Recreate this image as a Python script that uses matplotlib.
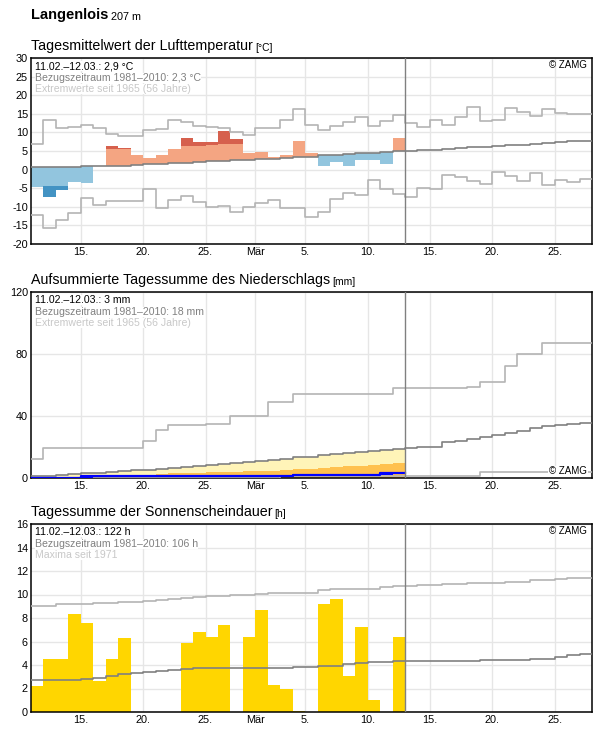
import numpy as np
import matplotlib
matplotlib.use('Agg')
from matplotlib import pyplot as plt

plt.rcParams['font.family'] = ['Liberation Sans', 'DejaVu Sans']
plt.rcParams['axes.unicode_minus'] = False

# x axis: one step per day, day 0 = 11. Feb, day 30 = 13. Mar (today), day 45 = 28. Mar
tick_pos = [4, 9, 14, 18, 22, 27, 32, 37, 42]
tick_lbl = ['15.', '20.', '25.', 'Mär', '5.', '10.', '15.', '20.', '25.']
today = 30

# --- Lufttemperatur (daily mean, 11.02.-12.03.) ---
temp = [-4.6, -7.3, -5.6, -3.2, -3.5, 0.9, 6.3, 5.7, 3.9, 3.0, 3.9, 5.5, 8.5, 7.4, 7.4,
        10.4, 8.3, 4.5, 4.7, 3.3, 3.8, 7.7, 4.4, 1.1, 2.0, 1.1, 2.7, 2.7, 1.6, 8.6]
# where the darker shade starts (NaN = no dark part)
temp_split = [np.nan, -4.4, -4.4, np.nan, np.nan, np.nan, 5.45, 5.45, np.nan, np.nan,
              np.nan, np.nan, 6.4, 6.4, 6.6, 6.9, 6.9, np.nan, np.nan, np.nan,
              np.nan, np.nan, np.nan, np.nan, np.nan, np.nan, np.nan, np.nan, np.nan, np.nan]
temp_clim = [0.6, 0.6, 0.6, 0.6, 0.9, 0.9, 1.0, 1.0, 1.3, 1.6, 1.6, 1.9, 1.9, 2.1, 2.2,
             2.4, 2.5, 2.7, 2.8, 2.9, 3.1, 3.4, 3.5, 3.8, 3.9, 4.2, 4.4, 4.5, 4.7, 4.9,
             5.0, 5.2, 5.4, 5.6, 5.8, 6.0, 6.2, 6.3, 6.5, 6.7, 6.9, 7.1, 7.3, 7.6, 7.8]
temp_max = [6.8, 13.2, 11.1, 11.4, 12.1, 11.1, 9.7, 8.9, 8.9, 10.7, 10.9, 13.2, 12.9, 11.6, 11.4,
            11.3, 10.0, 9.3, 11.1, 11.1, 13.2, 16.2, 12.0, 10.6, 11.6, 12.7, 14.1, 11.6, 13.1, 14.6,
            12.5, 11.4, 13.4, 12.0, 14.1, 16.8, 13.1, 13.4, 16.5, 15.6, 14.4, 16.4, 15.3, 14.9, 14.9]
temp_min = [-12.3, -15.6, -13.6, -11.8, -7.5, -9.4, -8.5, -8.5, -8.5, -5.3, -10.2, -8.2, -7.0, -8.6, -10.0,
            -9.7, -11.5, -10.0, -9.1, -8.2, -10.2, -10.3, -12.8, -11.4, -8.0, -6.2, -6.9, -2.8, -5.3, -6.6,
            -7.4, -5.0, -5.3, -1.5, -2.1, -3.1, -3.9, -0.6, -1.8, -3.1, -0.9, -4.2, -2.8, -3.4, -2.5]

# --- Niederschlag ---
prec_day = [0, 0, 0, 0, 1.3, 0, 0, 0, 0, 0, 0, 0, 0, 0, 0,
            0, 0, 0, 0, 0, 0, 0.7, 0, 0, 0, 0, 0, 0, 1.0, 0]
prec_clim = [1.0, 1.0, 2.2, 2.6, 3.2, 3.4, 3.9, 4.5, 5.2, 5.4, 5.8, 6.5, 7.1, 8.0, 8.4,
             9.3, 10.0, 10.6, 11.2, 11.6, 12.3, 13.4, 13.8, 15.0, 15.8, 16.4, 16.6, 17.2, 17.9, 18.5,
             19.4, 20.1, 20.1, 23.1, 24.0, 25.3, 26.6, 27.9, 29.2, 30.5, 32.2, 33.5, 34.4, 35.0, 35.7]
prec_med = [0.5, 0.5, 0.8, 0.8, 1.0, 1.0, 1.2, 1.3, 1.5, 2.2, 2.6, 3.0, 3.2, 3.4, 3.6,
            3.8, 4.0, 4.3, 4.5, 4.7, 4.9, 5.6, 5.8, 6.5, 6.9, 7.5, 8.0, 8.6, 9.1, 9.5]
prec_max = [12.3, 19.4, 19.4, 19.4, 19.4, 19.4, 19.4, 19.4, 19.4, 24.0, 30.9, 34.4, 34.4, 34.4, 34.7,
            34.7, 40.0, 40.0, 40.0, 49.0, 49.0, 54.0, 54.0, 54.0, 54.0, 54.0, 54.4, 54.4, 54.4, 57.9,
            57.9, 57.9, 57.9, 57.9, 57.9, 59.0, 62.0, 62.0, 72.0, 79.9, 79.9, 87.1, 87.1, 87.1, 87.1]
prec_min = [0, 0, 0, 0, 0, 0, 0, 0, 0, 0, 0, 0, 0, 0, 0,
            0, 0, 0, 0, 0, 1.0, 1.0, 1.0, 1.0, 1.0, 1.0, 1.0, 1.0, 1.0, 1.0,
            1.0, 1.0, 1.0, 1.0, 1.0, 1.0, 4.0, 4.0, 4.0, 4.0, 4.0, 4.0, 4.0, 4.0, 4.0]

# --- Sonnenscheindauer ---
sun = [2.2, 4.5, 4.5, 8.3, 7.6, 2.6, 4.5, 6.3, 0, 0, 0, 0, 5.9, 6.8, 6.4,
       7.4, 0, 6.4, 8.7, 2.3, 2.0, 0.1, 0, 9.2, 9.6, 3.1, 7.2, 1.0, 0, 6.4]
sun_clim = [2.7, 2.7, 2.7, 2.7, 2.8, 2.9, 3.1, 3.2, 3.3, 3.37, 3.49, 3.54, 3.66, 3.75, 3.78,
            3.78, 3.78, 3.78, 3.78, 3.78, 3.78, 3.8, 3.8, 3.89, 3.95, 4.06, 4.18, 4.24, 4.29, 4.35,
            4.38, 4.38, 4.38, 4.38, 4.38, 4.38, 4.44, 4.44, 4.44, 4.44, 4.52, 4.52, 4.64, 4.81, 4.93]
sun_max = [9.0, 9.0, 9.2, 9.2, 9.2, 9.3, 9.3, 9.4, 9.4, 9.48, 9.57, 9.65, 9.74, 9.8, 9.88,
           9.88, 9.97, 9.97, 10.06, 10.1, 10.17, 10.17, 10.17, 10.35, 10.43, 10.43, 10.5, 10.5, 10.6, 10.7,
           10.7, 10.78, 10.78, 10.9, 10.9, 11.0, 11.0, 11.0, 11.1, 11.1, 11.2, 11.2, 11.3, 11.38, 11.38]

W, H = 596, 729
GRID = '#e6e6e6'
CLIM = '#808080'
EXT = '#b4b4b4'


def px(v):
    # pixels -> points at dpi 100
    return v * 0.72


def steps(ax, vals, color, lw=1.2, z=3):
    vals = np.asarray(vals, dtype=float)
    xs = np.arange(len(vals) + 1)
    ax.plot(xs, np.append(vals, vals[-1]), drawstyle='steps-post', color=color, lw=lw, zorder=z)


def make_axes(top, bottom):
    ax = fig.add_axes([31 / W, 1 - bottom / H, 561 / W, (bottom - top) / H])
    ax.set_xlim(0, 45)
    ax.set_xticks(tick_pos)
    ax.set_xticklabels(tick_lbl)
    ax.tick_params(length=0, labelsize=7.8, pad=px(3))
    ax.grid(True, color=GRID, lw=1)
    ax.set_axisbelow(True)
    for s in ax.spines.values():
        s.set_linewidth(1.1)
        s.set_color('black')
    ax.axvline(today, color=CLIM, lw=1, zorder=4)
    return ax


def title(ax, main, unit):
    t = ax.annotate(main, xy=(0, 1), xycoords='axes fraction', xytext=(0, px(8)),
                    textcoords='offset points', fontsize=10.3, va='baseline', ha='left')
    ax.annotate(unit, xy=(1, 0), xycoords=t, xytext=(px(2), 0), textcoords='offset points',
                fontsize=7.4, va='bottom', ha='left')


def info(ax, lines):
    for i, (s, c) in enumerate(lines):
        ax.annotate(s, xy=(0, 1), xycoords='axes fraction', xytext=(px(4), -px(11.3 + 11.5 * i)),
                    textcoords='offset points', fontsize=7.6, color=c, va='baseline', ha='left',
                    zorder=6, bbox=dict(boxstyle='square,pad=0.0', fc='white', ec='none'))


def zamg(ax, bottom=False):
    if bottom:
        ax.annotate('© ZAMG', xy=(1, 0), xycoords='axes fraction', xytext=(-px(5), px(3.5)),
                    textcoords='offset points', fontsize=7, ha='right', va='baseline', zorder=6,
                    bbox=dict(boxstyle='square,pad=0.1', fc='white', ec='none'))
    else:
        ax.annotate('© ZAMG', xy=(1, 1), xycoords='axes fraction', xytext=(-px(5), -px(10.5)),
                    textcoords='offset points', fontsize=7, ha='right', va='baseline', zorder=6)


fig = plt.figure(figsize=(W / 100, H / 100), dpi=100)

# --- panel 1: temperature ---
ax1 = make_axes(58, 244)
ax1.set_ylim(-20, 30)
ax1.set_yticks(range(-20, 31, 5))
days = np.arange(len(temp))
t = np.asarray(temp)
c = np.asarray(temp_clim[:len(temp)])
sp = np.asarray(temp_split)
warm = t >= c
light_top = np.where(np.isnan(sp), t, sp)
ax1.bar(days, light_top - c, bottom=c, width=1, align='edge', linewidth=0,
        color=np.where(warm, '#f4a582', '#92c5de'), zorder=2)
has_dark = ~np.isnan(sp)
ax1.bar(days[has_dark], (t - sp)[has_dark], bottom=sp[has_dark], width=1, align='edge', linewidth=0,
        color=np.where(warm[has_dark], '#d6604d', '#4393c3'), zorder=2)
steps(ax1, temp_max, EXT)
steps(ax1, temp_min, EXT)
steps(ax1, temp_clim, CLIM)
title(ax1, 'Tagesmittelwert der Lufttemperatur', '[°C]')
info(ax1, [('11.02.–12.03.: 2,9 °C', 'black'),
           ('Bezugszeitraum 1981–2010: 2,3 °C', '#808080'),
           ('Extremwerte seit 1965 (56 Jahre)', '#c8c8c8')])
zamg(ax1)

# header (placed relative to the figure, drawn through ax1 so no extra axes appear)
hdr = fig.text(31 / W, 1 - 18.5 / H, 'Langenlois', fontsize=10.5, fontweight='bold', va='baseline')
ax1.annotate('207 m', xy=(1, 0), xycoords=hdr, xytext=(px(3), 0), textcoords='offset points',
             fontsize=7.8, va='bottom', ha='left', annotation_clip=False)

# --- panel 2: precipitation ---
ax2 = make_axes(292, 478)
ax2.set_ylim(0, 120)
ax2.set_yticks([0, 40, 80, 120])
n = len(prec_day)
xs = np.arange(n + 1)
clim_cut = np.asarray(prec_clim[:n])
med = np.asarray(prec_med)
ax2.fill_between(xs, 0, np.append(clim_cut, clim_cut[-1]), step='post', color='#fff4b8', lw=0, zorder=1)
ax2.fill_between(xs, 0, np.append(med, med[-1]), step='post', color='#ffc14f', lw=0, zorder=1)
steps(ax2, prec_max, EXT)
steps(ax2, prec_min, EXT)
steps(ax2, prec_clim, CLIM)
cum = np.cumsum(prec_day)
pd_ = np.asarray(prec_day)
wet = pd_ > 0
ax2.bar(np.arange(n)[wet], pd_[wet], bottom=(cum - pd_)[wet], width=1, align='edge',
        color='#0000ff', linewidth=0, zorder=3)
steps(ax2, cum, '#0000ff', lw=1.6, z=3)
title(ax2, 'Aufsummierte Tagessumme des Niederschlags', '[mm]')
info(ax2, [('11.02.–12.03.: 3 mm', 'black'),
           ('Bezugszeitraum 1981–2010: 18 mm', '#808080'),
           ('Extremwerte seit 1965 (56 Jahre)', '#c8c8c8')])
zamg(ax2, bottom=True)

# --- panel 3: sunshine ---
ax3 = make_axes(524, 712)
ax3.set_ylim(0, 16)
ax3.set_yticks(range(0, 17, 2))
ax3.bar(np.arange(len(sun)), sun, width=1, align='edge', color='#ffd600', linewidth=0, zorder=2)
steps(ax3, sun_max, EXT)
steps(ax3, sun_clim, CLIM)
title(ax3, 'Tagessumme der Sonnenscheindauer', '[h]')
info(ax3, [('11.02.–12.03.: 122 h', 'black'),
           ('Bezugszeitraum 1981–2010: 106 h', '#808080'),
           ('Maxima seit 1971', '#c8c8c8')])
zamg(ax3)

fig.savefig('out.png', dpi=100)
